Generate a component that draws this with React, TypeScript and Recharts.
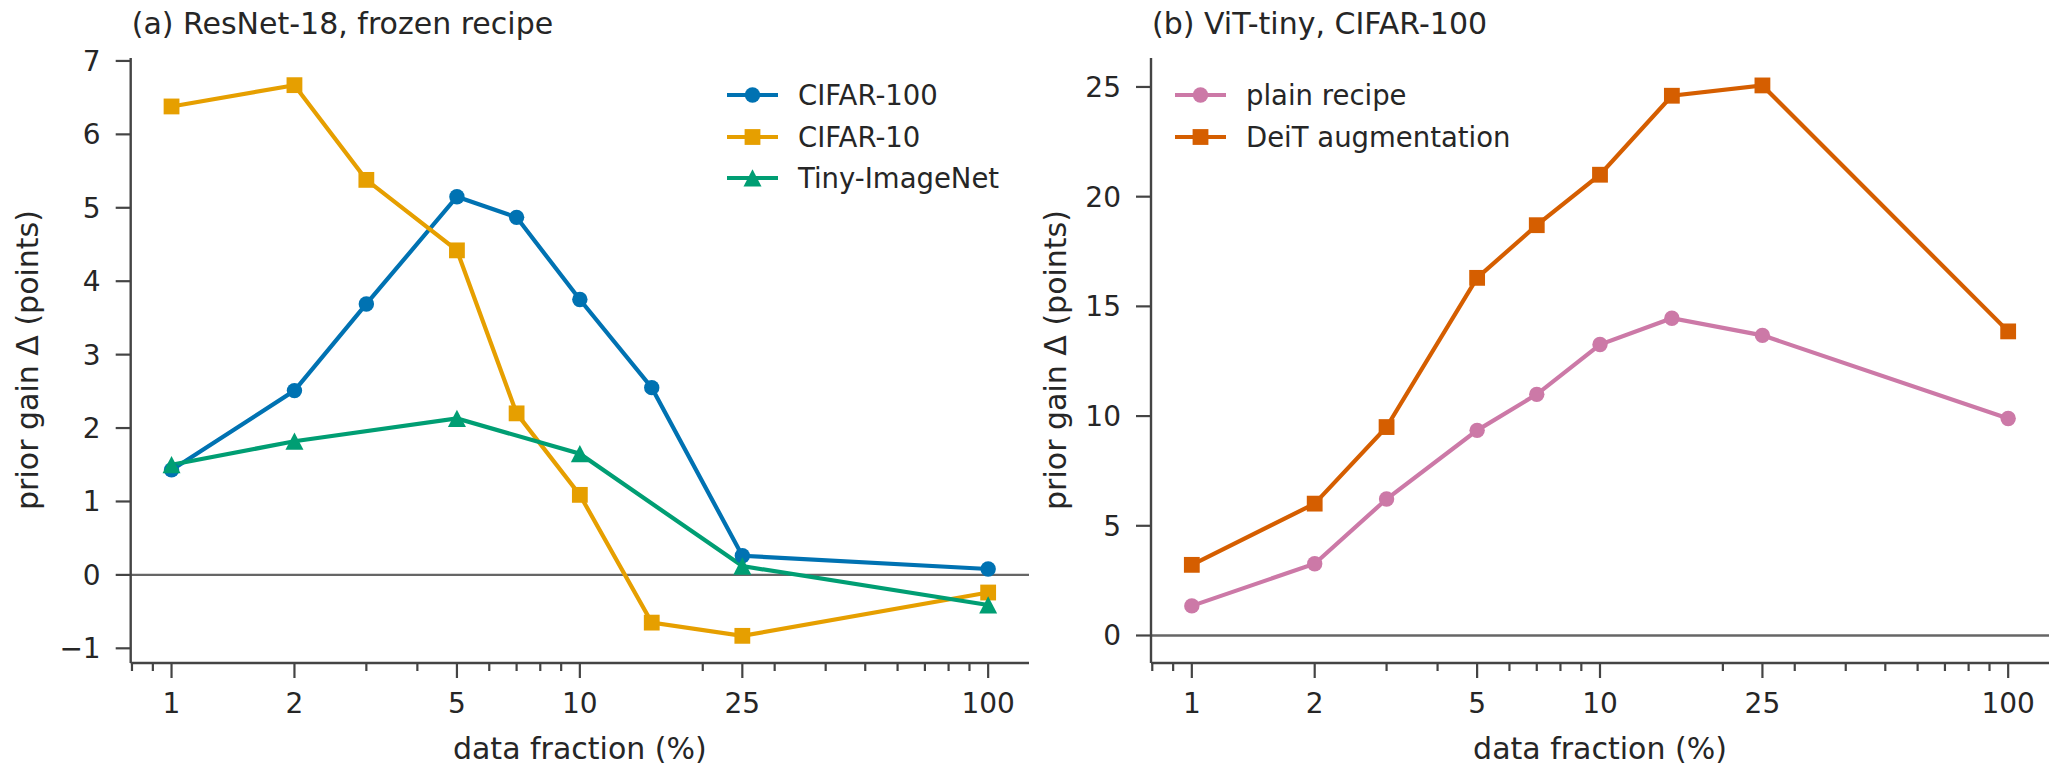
import React from "react";
import { LineChart, Line, XAxis, YAxis, ReferenceLine, Legend } from "recharts";

// data fraction (%) used in both panels
const FRACTIONS = [1, 2, 3, 5, 7, 10, 15, 25, 100];

// (a) ResNet-18, frozen recipe
const RESNET_CIFAR100 = [1.43, 2.51, 3.69, 5.15, 4.87, 3.75, 2.55, 0.26, 0.08];
const RESNET_CIFAR10 = [6.38, 6.67, 5.38, 4.42, 2.2, 1.09, -0.65, -0.83, -0.24];
const RESNET_TINY = [1.5, 1.82, null, 2.13, null, 1.65, null, 0.12, -0.41];

// (b) ViT-tiny, CIFAR-100
const VIT_PLAIN = [1.35, 3.27, 6.22, 9.35, 10.99, 13.26, 14.46, 13.68, 9.89];
const VIT_DEIT = [3.22, 6.01, 9.5, 16.3, 18.7, 21.0, 24.6, 25.07, 13.86];

const X_MAJOR = [1, 2, 5, 10, 25, 100];
const X_MINOR = [0.8, 0.9, 3, 4, 6, 7, 8, 9, 20, 30, 40, 50, 60, 70, 80, 90];
const RESNET_Y_TICKS = [-1, 0, 1, 2, 3, 4, 5, 6, 7];
const VIT_Y_TICKS = [0, 5, 10, 15, 20, 25];

const FONT = "'DejaVu Sans', sans-serif";
const TEXT = "#262626";
const AXIS = "#444444";
const TICK_FONT = 28;
const X_TICKS = [...X_MINOR, ...X_MAJOR].sort((a, b) => a - b);
const X_DOMAIN = [0.7943, 125.9];
const TICK_LEN = 15;
const TICK_GAP = 15;

type Marker = "circle" | "square" | "triangle";
type Series = { key: string; name: string; color: string; marker: Marker; values: (number | null)[] };

const RESNET_SERIES: Series[] = [
  { key: "c100", name: "CIFAR-100", color: "#0072B2", marker: "circle", values: RESNET_CIFAR100 },
  { key: "c10", name: "CIFAR-10", color: "#E69F00", marker: "square", values: RESNET_CIFAR10 },
  { key: "tiny", name: "Tiny-ImageNet", color: "#009E73", marker: "triangle", values: RESNET_TINY },
];

const VIT_SERIES: Series[] = [
  { key: "plain", name: "plain recipe", color: "#CC79A7", marker: "circle", values: VIT_PLAIN },
  { key: "deit", name: "DeiT augmentation", color: "#D55E00", marker: "square", values: VIT_DEIT },
];

function buildRows(series: Series[]) {
  return FRACTIONS.map((frac, i) => {
    const row: Record<string, number | null> = { frac };
    series.forEach((s) => (row[s.key] = s.values[i]));
    return row;
  });
}

function MarkerShape({ shape, cx, cy, color }: { shape: Marker; cx: number; cy: number; color: string }) {
  if (shape === "square") return <rect x={cx - 7.9} y={cy - 7.9} width={15.8} height={15.8} fill={color} />;
  if (shape === "triangle")
    return <polygon points={`${cx},${cy - 8.8} ${cx - 9},${cy + 8.6} ${cx + 9},${cy + 8.6}`} fill={color} />;
  return <circle cx={cx} cy={cy} r={7.7} fill={color} />;
}

function makeDot(s: Series) {
  return (props: any) => {
    const { cx, cy, index } = props;
    if (cx == null || cy == null || props.value == null) return <g key={`${s.key}-${index}`} />;
    return (
      <g key={`${s.key}-${index}`}>
        <MarkerShape shape={s.marker} cx={cx} cy={cy} color={s.color} />
      </g>
    );
  };
}

function LogTick(props: any) {
  const { x, y, payload } = props;
  const major = X_MAJOR.includes(payload.value);
  const axisY = y - TICK_LEN - TICK_GAP;
  return (
    <g>
      <line x1={x} x2={x} y1={axisY} y2={axisY + (major ? TICK_LEN : 8)} stroke={AXIS} strokeWidth={2.2} />
      {major && (
        <text x={x} y={y} dy="0.71em" textAnchor="middle" fontSize={TICK_FONT} fontFamily={FONT} fill={TEXT}>
          {payload.value}
        </text>
      )}
    </g>
  );
}

function LegendBox({ series }: { series: Series[] }) {
  return (
    <div style={{ fontFamily: FONT, fontSize: 27.5, color: TEXT }}>
      {series.map((s) => (
        <div key={s.key} style={{ display: "flex", alignItems: "center", height: 41.5, whiteSpace: "nowrap" }}>
          <svg width={51} height={20} style={{ marginRight: 20 }}>
            <line x1={0} x2={51} y1={10} y2={10} stroke={s.color} strokeWidth={4.2} />
            <MarkerShape shape={s.marker} cx={25.5} cy={10} color={s.color} />
          </svg>
          <span>{s.name}</span>
        </div>
      ))}
    </div>
  );
}

const fmtY = (v: number) => (v < 0 ? `\u2212${Math.abs(v)}` : `${v}`);

type PanelProps = {
  left: number;
  width: number;
  yAxisWidth: number;
  marginRight: number;
  yDomain: [number, number];
  yTicks: number[];
  series: Series[];
  legendLeft: number;
  title: string;
  yLabelX: number;
};

function Panel(p: PanelProps) {
  const rows = buildRows(p.series);
  return (
    <div style={{ position: "absolute", left: p.left, top: 0, width: p.width, height: 773 }}>
      <LineChart width={p.width} height={773} data={rows} margin={{ top: 58, right: p.marginRight, bottom: 0, left: 0 }}>
        <XAxis
          dataKey="frac"
          type="number"
          scale="log"
          domain={X_DOMAIN}
          allowDataOverflow
          ticks={X_TICKS}
          interval={0}
          tick={<LogTick />}
          tickLine={false}
          tickSize={TICK_LEN}
          tickMargin={TICK_GAP}
          axisLine={{ stroke: AXIS, strokeWidth: 2.4 }}
          height={110}
        />
        <YAxis
          type="number"
          domain={p.yDomain}
          allowDataOverflow
          ticks={p.yTicks}
          interval={0}
          tickFormatter={fmtY}
          tick={{ fontSize: TICK_FONT, fill: TEXT, fontFamily: FONT }}
          tickLine={{ stroke: AXIS, strokeWidth: 2.2 }}
          tickSize={TICK_LEN}
          tickMargin={TICK_GAP}
          axisLine={{ stroke: AXIS, strokeWidth: 2.4 }}
          width={p.yAxisWidth}
        />
        <ReferenceLine y={0} stroke="#666666" strokeWidth={2.4} />
        {p.series.map((s) => (
          <Line
            key={s.key}
            type="linear"
            dataKey={s.key}
            name={s.name}
            stroke={s.color}
            strokeWidth={4.2}
            dot={makeDot(s)}
            activeDot={false}
            connectNulls
            isAnimationActive={false}
          />
        ))}
        <Legend
          layout="vertical"
          align="center"
          verticalAlign="middle"
          content={() => <LegendBox series={p.series} />}
          wrapperStyle={{ top: 74.25, left: p.legendLeft, width: "auto", height: "auto" }}
        />
      </LineChart>
      <svg
        width={p.width}
        height={773}
        style={{ position: "absolute", left: 0, top: 0, pointerEvents: "none", overflow: "visible" }}
        fontFamily={FONT}
        fill={TEXT}
      >
        <text x={p.yAxisWidth + 1} y={34} fontSize={30}>
          {p.title}
        </text>
        <text
          x={p.yAxisWidth + (p.width - p.yAxisWidth - p.marginRight) / 2}
          y={759}
          fontSize={30}
          textAnchor="middle"
        >
          data fraction (%)
        </text>
        <text
          x={p.yLabelX}
          y={360}
          fontSize={30}
          textAnchor="middle"
          dominantBaseline="central"
          transform={`rotate(-90 ${p.yLabelX} 360)`}
        >
          prior gain Δ (points)
        </text>
      </svg>
    </div>
  );
}

export default function App() {
  return (
    <div style={{ position: "relative", width: 2058, height: 773, background: "#fff" }}>
      <style>{`body{margin:0}`}</style>
      <Panel
        left={0}
        width={1030}
        yAxisWidth={130.7}
        marginRight={1}
        yDomain={[-1.2, 7.04]}
        yTicks={RESNET_Y_TICKS}
        series={RESNET_SERIES}
        legendLeft={727}
        title="(a) ResNet-18, frozen recipe"
        yLabelX={27}
      />
      <Panel
        left={1030}
        width={1028}
        yAxisWidth={121}
        marginRight={9}
        yDomain={[-1.2535, 26.32]}
        yTicks={VIT_Y_TICKS}
        series={VIT_SERIES}
        legendLeft={145}
        title="(b) ViT-tiny, CIFAR-100"
        yLabelX={25}
      />
    </div>
  );
}
